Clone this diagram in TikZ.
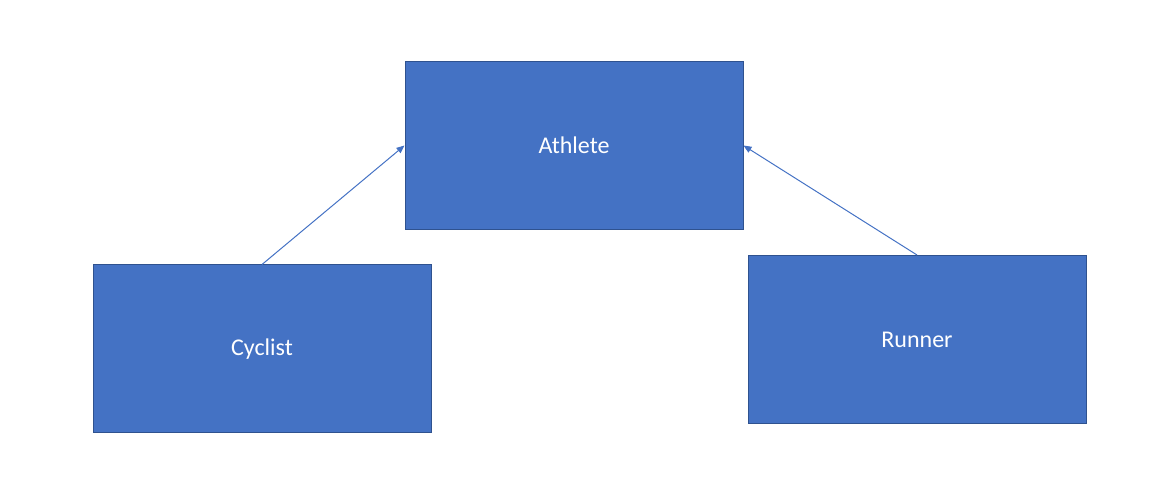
\documentclass[tikz,border=0pt]{standalone}
\usepackage{fontspec}
\setmainfont{Carlito}
\usetikzlibrary{arrows.meta}
\definecolor{boxfill}{HTML}{4472C4}
\definecolor{boxline}{HTML}{2F528F}
\begin{document}
\begin{tikzpicture}[x=0.75pt,y=-0.75pt,
  cls/.style={draw=boxline,line width=0.75pt,fill=boxfill,text=white,
    minimum width=338*0.75pt,minimum height=168*0.75pt,inner sep=0pt,
    font=\fontsize{18}{21}\selectfont},
  inh/.style={draw=boxfill,line width=0.75pt,-{Triangle[length=6pt,width=5pt]}}]
\useasboundingbox (0,0) rectangle (1158,491);
\node[cls] (athlete) at (574,145.5) {Athlete};
\node[cls] (cyclist) at (262,349) {Cyclist};
\node[cls] (runner) at (917,339.5) {Runner};
\draw[inh] (cyclist.north) -- (athlete.west);
\draw[inh] (runner.north) -- (athlete.east);
\end{tikzpicture}
\end{document}
